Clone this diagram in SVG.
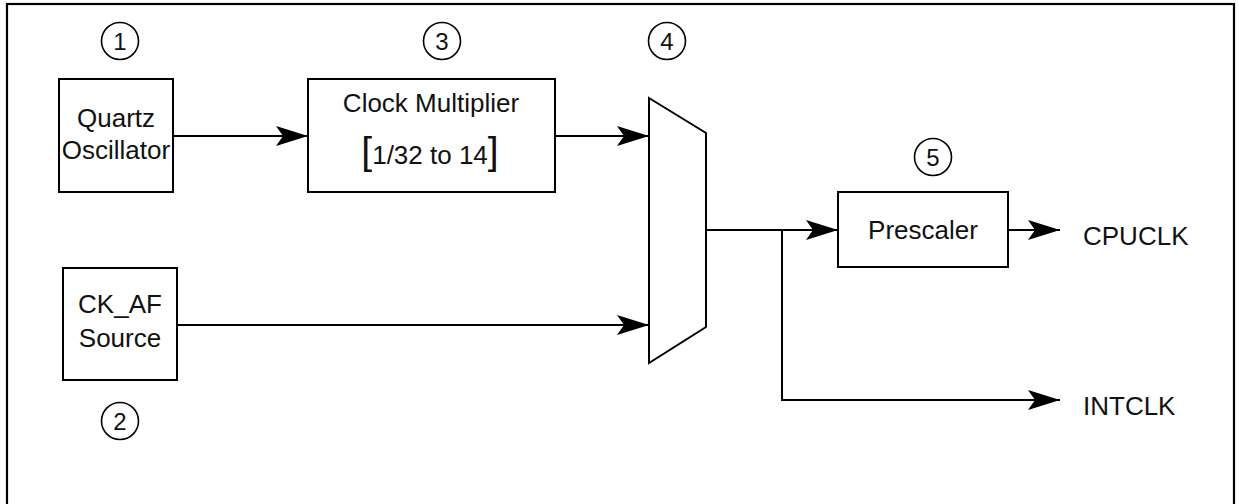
<svg xmlns="http://www.w3.org/2000/svg" width="1239" height="504" viewBox="0 0 1239 504">
<style>
.box{fill:#fff;stroke:#000;stroke-width:2}
.ln{fill:none;stroke:#000;stroke-width:2}
.t{font-family:"Liberation Sans",Arial,sans-serif;font-size:26px;fill:#111;text-anchor:middle}
.lbl{font-family:"Liberation Sans",Arial,sans-serif;font-size:26px;fill:#111}
.n{font-family:"Liberation Sans",Arial,sans-serif;font-size:24px;fill:#111;text-anchor:middle}
.c{fill:none;stroke:#000;stroke-width:1.6}
</style>
<defs>
<marker id="ah" markerUnits="userSpaceOnUse" markerWidth="34" markerHeight="22" viewBox="-32 -11 34 22" refX="0" refY="0" orient="auto">
<path d="M0,0 L-32,-10 L-25,0 L-32,10 Z" fill="#000"/>
</marker>
</defs>
<rect x="7" y="4" width="1227" height="520" fill="#fff" stroke="#000" stroke-width="2.2"/>
<g id="connectors">
<line class="ln" x1="173" y1="136" x2="308" y2="136" marker-end="url(#ah)"/>
<line class="ln" x1="555" y1="136" x2="649" y2="136" marker-end="url(#ah)"/>
<line class="ln" x1="177" y1="325" x2="649" y2="325" marker-end="url(#ah)"/>
<line class="ln" x1="706" y1="230" x2="838" y2="230" marker-end="url(#ah)"/>
<polyline class="ln" points="782,230 782,400 1060,400" marker-end="url(#ah)"/>
<line class="ln" x1="1008" y1="230" x2="1060" y2="230" marker-end="url(#ah)"/>
</g>
<g id="quartz">
<rect class="box" x="59" y="79" width="114" height="113"/>
<text class="t" x="116" y="127">Quartz</text>
<text class="t" x="116" y="159">Oscillator</text>
</g>
<g id="ckaf">
<rect class="box" x="63" y="268" width="114" height="112"/>
<text class="t" x="120" y="313">CK_AF</text>
<text class="t" x="120" y="347">Source</text>
</g>
<g id="multiplier">
<rect class="box" x="308" y="79" width="247" height="113"/>
<text class="t" x="431" y="112">Clock Multiplier</text>
<text class="t" x="430" y="164"><tspan font-size="39">[</tspan>1/32 to 14<tspan font-size="39">]</tspan></text>
</g>
<g id="mux">
<polygon class="box" points="649,98 706,133 706,327 649,363"/>
</g>
<g id="prescaler">
<rect class="box" x="838" y="192" width="170" height="75"/>
<text class="t" x="923" y="239">Prescaler</text>
</g>
<g id="outputs">
<text class="lbl" x="1083" y="245">CPUCLK</text>
<text class="lbl" x="1083" y="415">INTCLK</text>
</g>
<g id="num1"><circle class="c" cx="120" cy="41" r="18.5"/><text class="n" x="120" y="49.5">1</text></g>
<g id="num2"><circle class="c" cx="120" cy="421" r="18.5"/><text class="n" x="120" y="429.5">2</text></g>
<g id="num3"><circle class="c" cx="442" cy="41" r="18.5"/><text class="n" x="442" y="49.5">3</text></g>
<g id="num4"><circle class="c" cx="667" cy="41" r="18.5"/><text class="n" x="667" y="49.5">4</text></g>
<g id="num5"><circle class="c" cx="933" cy="157" r="18.5"/><text class="n" x="933" y="165.5">5</text></g>
</svg>
